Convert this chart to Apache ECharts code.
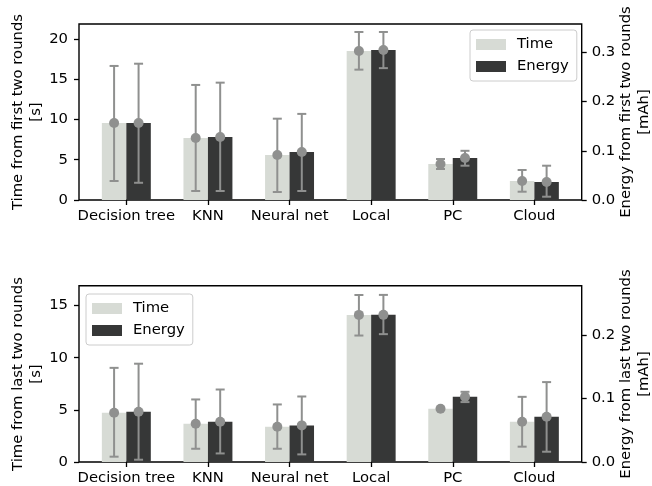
<!DOCTYPE html>
<html>
<head>
<meta charset="utf-8">
<script src="https://cdn.jsdelivr.net/npm/echarts@6/dist/echarts.min.js"></script>
<style>
  html, body { margin: 0; padding: 0; background: #fff; }
  #chart { width: 652px; height: 486px; }
</style>
</head>
<body>
<div id="chart"></div>
<script>
// Categories along the x axis
const categories = ['Decision tree', 'KNN', 'Neural net', 'Local', 'PC', 'Cloud'];

// First two rounds: time [s] (mean, lower and upper error bound)
const firstTime   = [9.57, 7.70, 5.59, 18.50, 4.47, 2.36];
const firstTimeLo = [2.36, 1.12, 0.99, 16.19, 3.85, 1.03];
const firstTimeHi = [16.65, 14.29, 10.10, 20.87, 5.09, 3.73];

// First two rounds: energy [mAh]
const firstEnergy   = [0.1565, 0.128, 0.0976, 0.305, 0.0854, 0.0366];
const firstEnergyLo = [0.035, 0.0183, 0.0183, 0.268, 0.0697, 0.0067];
const firstEnergyHi = [0.277, 0.2385, 0.175, 0.3415, 0.100, 0.0697];

// Last two rounds: time [s]
const lastTime   = [4.72, 3.67, 3.38, 14.11, 5.10, 3.86];
const lastTimeLo = [0.51, 1.27, 1.27, 12.13, 5.06, 1.47];
const lastTimeHi = [9.03, 6.00, 5.52, 16.02, 5.14, 6.25];

// Last two rounds: energy [mAh]
const lastEnergy   = [0.0792, 0.0635, 0.0577, 0.232, 0.1028, 0.0713];
const lastEnergyLo = [0.0036, 0.0135, 0.012, 0.2016, 0.0945, 0.0162];
const lastEnergyHi = [0.155, 0.1143, 0.1033, 0.2635, 0.1107, 0.126];

// Tick labels
const firstTimeTicks = [0, 5, 10, 15, 20];
const firstEnergyTicks = [0, 0.1, 0.2, 0.3];
const lastTimeTicks = [0, 5, 10, 15];
const lastEnergyTicks = [0, 0.1, 0.2];

// Axis titles
const firstTimeTitle = 'Time from first two rounds\n[s]';
const firstEnergyTitle = 'Energy from first two rounds\n[mAh]';
const lastTimeTitle = 'Time from last two rounds\n[s]';
const lastEnergyTitle = 'Energy from last two rounds\n[mAh]';

// ---- layout / style ----
const FONT = 'DejaVu Sans';
const FS = 14.8;
const TIME_COLOR = '#d7dbd5';
const ENERGY_COLOR = '#363737';
const ERR_COLOR = '#8f908f';
const X_MIN = -0.58, X_MAX = 5.58;
const BAR_W_UNITS = 0.3;   // each bar is 0.3 of a category step
const PLOT_LEFT = 79, PLOT_RIGHT = 70.3;
const PLOT_W = 652 - PLOT_LEFT - PLOT_RIGHT;
const TOP_GRID = { top: 24, height: 176 };
const BOTTOM_GRID = { top: 285.7, height: 176.6 };
const barWidthPx = BAR_W_UNITS * PLOT_W / (X_MAX - X_MIN);
const catIdx = categories.map((_, i) => i);

const chart = echarts.init(document.getElementById('chart'), null, { renderer: 'canvas' });

function xAxisVisible(gridIndex) {
  return {
    type: 'value', gridIndex, min: X_MIN, max: X_MAX,
    axisLine: { show: false, onZero: false },
    splitLine: { show: false },
    axisTick: { show: true, length: 5, customValues: catIdx, lineStyle: { color: '#000', width: 1.3 } },
    axisLabel: {
      customValues: catIdx, margin: 9,
      fontFamily: FONT, fontSize: FS, color: '#000',
      formatter: v => categories[Math.round(v)]
    }
  };
}
function xAxisHidden(gridIndex) {
  return {
    type: 'value', gridIndex, min: X_MIN, max: X_MAX, show: false,
    axisLine: { show: false, onZero: false }, splitLine: { show: false }
  };
}
function yAxis(gridIndex, position, max, ticks, fmt) {
  return {
    type: 'value', gridIndex, position, min: 0, max,
    axisLine: { show: false, onZero: false },
    splitLine: { show: false },
    axisTick: { show: true, length: 5, customValues: ticks, lineStyle: { color: '#000', width: 1.3 } },
    axisLabel: {
      customValues: ticks, margin: position === 'left' ? 11 : 10,
      fontFamily: FONT, fontSize: FS, color: '#000', formatter: fmt
    }
  };
}

const intFmt = v => String(Math.round(v));
const oneDec = v => v.toFixed(1);

function barSeries(name, xAxisIndex, yAxisIndex, offset, values, color) {
  return {
    type: 'bar', name, xAxisIndex, yAxisIndex,
    barWidth: barWidthPx,
    itemStyle: { color },
    data: values.map((v, i) => [i + offset, v]),
    z: 2
  };
}
function errSeries(xAxisIndex, yAxisIndex, offset, lo, hi) {
  return {
    type: 'custom', xAxisIndex, yAxisIndex,
    encode: { x: 0, y: [1, 2] },
    data: lo.map((l, i) => [i + offset, l, hi[i]]),
    z: 3,
    silent: true,
    renderItem: (params, api) => {
      const x = api.value(0);
      const p1 = api.coord([x, api.value(1)]);
      const p2 = api.coord([x, api.value(2)]);
      const cap = 4.5;
      const st = { stroke: ERR_COLOR, lineWidth: 2 };
      return {
        type: 'group',
        children: [
          { type: 'line', shape: { x1: p1[0], y1: p1[1], x2: p2[0], y2: p2[1] }, style: st },
          { type: 'line', shape: { x1: p1[0] - cap, y1: p1[1], x2: p1[0] + cap, y2: p1[1] }, style: st },
          { type: 'line', shape: { x1: p2[0] - cap, y1: p2[1], x2: p2[0] + cap, y2: p2[1] }, style: st }
        ]
      };
    }
  };
}
function markerSeries(xAxisIndex, yAxisIndex, offset, values) {
  return {
    type: 'scatter', xAxisIndex, yAxisIndex,
    symbol: 'circle', symbolSize: 10,
    itemStyle: { color: ERR_COLOR, opacity: 1 },
    data: values.map((v, i) => [i + offset, v]),
    z: 4, silent: true
  };
}

// Rotated (bottom-to-top) axis title centred at (cx, cy)
function axisTitle(text, cx, cy) {
  return {
    type: 'text', x: cx, y: cy, rotation: Math.PI / 2, silent: true,
    style: {
      text, fill: '#000', font: FS + 'px "' + FONT + '"',
      fontFamily: FONT, fontSize: FS, lineHeight: 17.5,
      align: 'center', verticalAlign: 'middle',
      textAlign: 'center', textVerticalAlign: 'middle'
    }
  };
}

const legendBase = {
  orient: 'vertical',
  icon: 'rect',
  itemWidth: 30, itemHeight: 11,
  itemGap: 5,
  padding: [6, 8, 6, 6],
  backgroundColor: 'rgba(255,255,255,0.8)',
  borderColor: '#cccccc', borderWidth: 1, borderRadius: 3,
  textStyle: { fontFamily: FONT, fontSize: FS, color: '#000', padding: [0, 0, 0, 6], lineHeight: 17 },
  data: ['Time', 'Energy'],
  selectedMode: false
};

const topMid = TOP_GRID.top + TOP_GRID.height / 2;
const botMid = BOTTOM_GRID.top + BOTTOM_GRID.height / 2;

const option = {
  animation: false,
  backgroundColor: '#fff',
  grid: [
    Object.assign({ left: PLOT_LEFT, right: PLOT_RIGHT, show: true, borderColor: '#000', borderWidth: 1.4, backgroundColor: 'transparent' }, TOP_GRID),
    Object.assign({ left: PLOT_LEFT, right: PLOT_RIGHT, show: true, borderColor: '#000', borderWidth: 1.4, backgroundColor: 'transparent' }, BOTTOM_GRID)
  ],
  legend: [
    Object.assign({}, legendBase, { left: 470, top: 30 }),
    Object.assign({}, legendBase, { left: 86, top: 294 })
  ],
  graphic: [
    axisTitle(firstTimeTitle, 27, topMid),
    axisTitle(firstEnergyTitle, 635, topMid),
    axisTitle(lastTimeTitle, 27, botMid),
    axisTitle(lastEnergyTitle, 635, botMid)
  ],
  xAxis: [xAxisVisible(0), xAxisHidden(0), xAxisVisible(1), xAxisHidden(1)],
  yAxis: [
    yAxis(0, 'left', 21.86, firstTimeTicks, intFmt),
    yAxis(0, 'right', 0.3577, firstEnergyTicks, oneDec),
    yAxis(1, 'left', 16.91, lastTimeTicks, intFmt),
    yAxis(1, 'right', 0.278, lastEnergyTicks, oneDec)
  ],
  series: [
    barSeries('Time', 0, 0, -0.15, firstTime, TIME_COLOR),
    barSeries('Energy', 1, 1, 0.15, firstEnergy, ENERGY_COLOR),
    errSeries(0, 0, -0.15, firstTimeLo, firstTimeHi),
    errSeries(0, 1, 0.15, firstEnergyLo, firstEnergyHi),
    markerSeries(0, 0, -0.15, firstTime),
    markerSeries(0, 1, 0.15, firstEnergy),

    barSeries('Time', 2, 2, -0.15, lastTime, TIME_COLOR),
    barSeries('Energy', 3, 3, 0.15, lastEnergy, ENERGY_COLOR),
    errSeries(2, 2, -0.15, lastTimeLo, lastTimeHi),
    errSeries(2, 3, 0.15, lastEnergyLo, lastEnergyHi),
    markerSeries(2, 2, -0.15, lastTime),
    markerSeries(2, 3, 0.15, lastEnergy)
  ]
};

chart.setOption(option);
</script>
</body>
</html>
